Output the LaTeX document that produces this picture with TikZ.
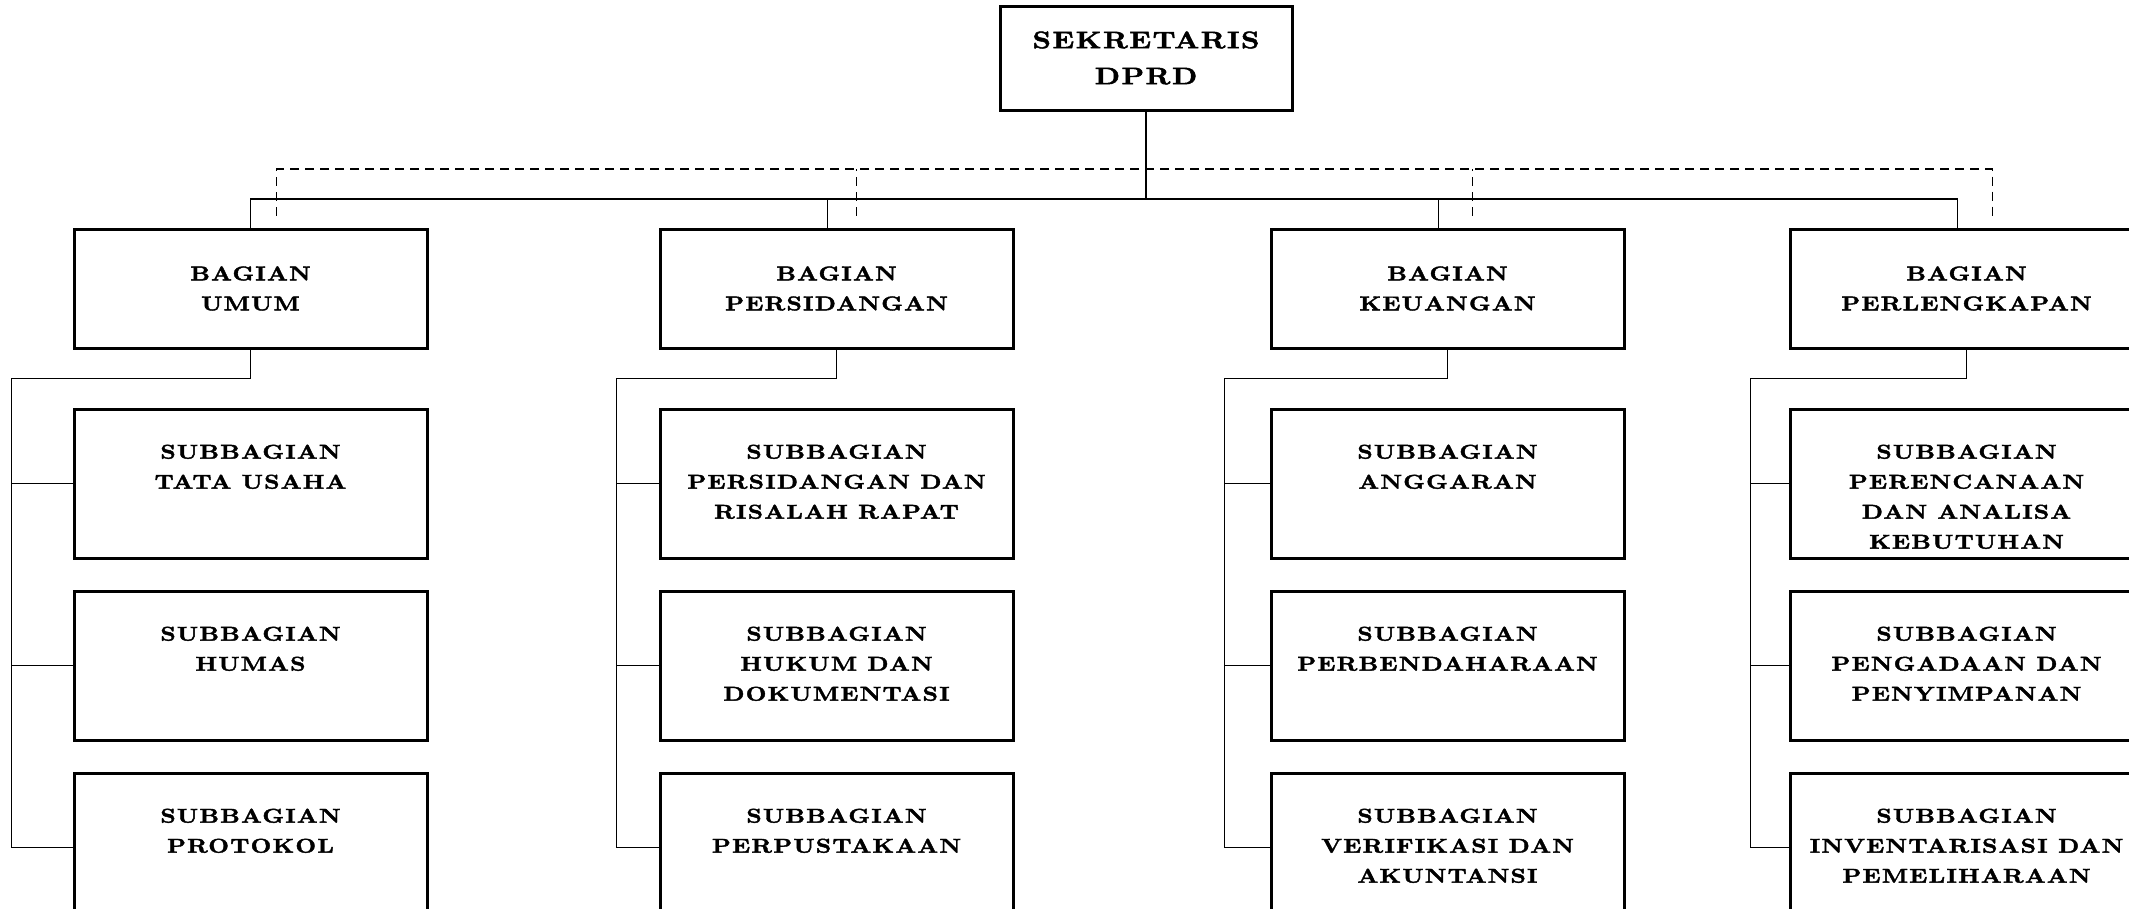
\documentclass[tikz,border=0pt]{standalone}
\usepackage{fontspec}
\newfontfamily\orgfont{lmroman10-bold.otf}[FakeStretch=1.2, FakeBold=2, LetterSpace=6]
\usetikzlibrary{positioning}

\tikzset{
  orgbox/.style={draw, line width=3pt, minimum width=353pt, inner sep=0pt},
  topbox/.style={orgbox, minimum width=292pt, minimum height=104pt, align=center,
    font=\orgfont\fontsize{24}{36}\selectfont},
  bagbox/.style={orgbox, minimum height=119pt, align=center,
    font=\orgfont\fontsize{20}{30}\selectfont},
  subbox/.style={orgbox, minimum height=149pt},
  subtext/.style={anchor=north, yshift=-37pt, align=center, inner sep=0pt,
    font=\orgfont\fontsize{20}{30}\selectfont},
  conn/.style={line width=1.7pt},
  dashconn/.style={line width=1.7pt, dash pattern=on 9pt off 6pt}
}

\begin{document}
\begin{tikzpicture}[x=1pt, y=-1pt]
	\useasboundingbox (0,0) rectangle (2129,908);
	\clip (0,0) rectangle (2129,908);

	% pimpinan
	\node[topbox] (sek) at (1146,58) {SEKRETARIS\\DPRD};

	% bagian
	\node[bagbox] (bu) at (250.5,288.5) {BAGIAN\\UMUM};
	\node[bagbox] (bp) at (836.5,288.5) {BAGIAN\\PERSIDANGAN};
	\node[bagbox] (bk) at (1447.5,288.5) {BAGIAN\\KEUANGAN};
	\node[bagbox] (bl) at (1966.5,288.5) {BAGIAN\\PERLENGKAPAN};

	% subbagian
	\node[subbox, below=58pt of bu, label={[subtext]north:{SUBBAGIAN\\TATA USAHA}}] (bu1) {};
	\node[subbox, below=30pt of bu1, label={[subtext]north:{SUBBAGIAN\\HUMAS}}] (bu2) {};
	\node[subbox, below=30pt of bu2, label={[subtext]north:{SUBBAGIAN\\PROTOKOL}}] (bu3) {};

	\node[subbox, below=58pt of bp, label={[subtext]north:{SUBBAGIAN\\PERSIDANGAN DAN\\RISALAH RAPAT}}] (bp1) {};
	\node[subbox, below=30pt of bp1, label={[subtext]north:{SUBBAGIAN\\HUKUM DAN\\DOKUMENTASI}}] (bp2) {};
	\node[subbox, below=30pt of bp2, label={[subtext]north:{SUBBAGIAN\\PERPUSTAKAAN}}] (bp3) {};

	\node[subbox, below=58pt of bk, label={[subtext]north:{SUBBAGIAN\\ANGGARAN}}] (bk1) {};
	\node[subbox, below=30pt of bk1, label={[subtext]north:{SUBBAGIAN\\PERBENDAHARAAN}}] (bk2) {};
	\node[subbox, below=30pt of bk2, label={[subtext]north:{SUBBAGIAN\\VERIFIKASI DAN\\AKUNTANSI}}] (bk3) {};

	\node[subbox, below=58pt of bl, label={[subtext]north:{SUBBAGIAN\\PERENCANAAN\\DAN ANALISA\\KEBUTUHAN}}] (bl1) {};
	\node[subbox, below=30pt of bl1, label={[subtext]north:{SUBBAGIAN\\PENGADAAN DAN\\PENYIMPANAN}}] (bl2) {};
	\node[subbox, below=30pt of bl2, label={[subtext]north:{SUBBAGIAN\\INVENTARISASI DAN\\PEMELIHARAAN}}] (bl3) {};

	% garis komando
	\coordinate (bus) at (0,199);
	\coordinate (dash) at (0,169);
	\draw[conn] (sek.south) -- (sek.south |- bus);
	\draw[conn] (bu.north) |- ([xshift=-9pt]bl.north |- bus) -- ([xshift=-9pt]bl.north);
	\draw[conn] ([xshift=-9pt]bp.north) -- ([xshift=-9pt]bp.north |- bus);
	\draw[conn] ([xshift=-9pt]bk.north) -- ([xshift=-9pt]bk.north |- bus);

	% garis koordinasi
	\draw[dashconn] ([xshift=26pt,yshift=12pt]bu.north) |- ([xshift=26pt]bl.north |- dash) -- ([xshift=26pt,yshift=12pt]bl.north);
	\draw[dashconn] ([xshift=20pt,yshift=12pt]bp.north) -- ([xshift=20pt]bp.north |- dash);
	\draw[dashconn] ([xshift=25pt,yshift=12pt]bk.north) -- ([xshift=25pt]bk.north |- dash);

	% bagian ke subbagian
	\draw[conn] (bu.south) -- ++(0,29) -| ([xshift=-61pt]bu3.west) -- (bu3.west);
	\draw[conn] (bu1.west) -- ++(-61,0);
	\draw[conn] (bu2.west) -- ++(-61,0);

	\draw[conn] (bp.south) -- ++(0,29) -| ([xshift=-42pt]bp3.west) -- (bp3.west);
	\draw[conn] (bp1.west) -- ++(-42,0);
	\draw[conn] (bp2.west) -- ++(-42,0);

	\draw[conn] (bk.south) -- ++(0,29) -| ([xshift=-45pt]bk3.west) -- (bk3.west);
	\draw[conn] (bk1.west) -- ++(-45,0);
	\draw[conn] (bk2.west) -- ++(-45,0);

	\draw[conn] (bl.south) -- ++(0,29) -| ([xshift=-38pt]bl3.west) -- (bl3.west);
	\draw[conn] (bl1.west) -- ++(-38,0);
	\draw[conn] (bl2.west) -- ++(-38,0);
\end{tikzpicture}
\end{document}
